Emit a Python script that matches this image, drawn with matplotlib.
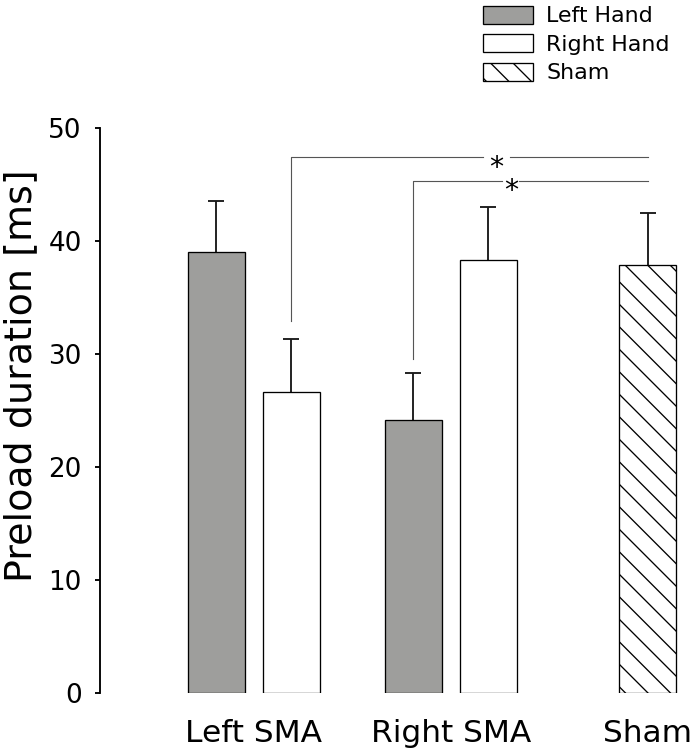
import matplotlib
matplotlib.use("Agg")
import matplotlib.pyplot as plt
from matplotlib.patches import Patch

# group labels and values (ms)
groups = ["Left SMA", "Right SMA", "Sham"]
left_hand_mean = [39.05, 24.2]
left_hand_sem = [4.5, 4.15]
right_hand_mean = [26.6, 38.3]
right_hand_sem = [4.7, 4.7]
sham_mean = [37.85]
sham_sem = [4.6]

# significance brackets: (x start, y start, y top, x end, star x)
brackets = [
    (0.1906, 32.9, 47.4, 2.0, 1.233),
    (0.8094, 29.6, 45.3, 2.0, 1.305),
]
star_gap = [0.141, 0.084]

DPI = 135
plt.rcParams["hatch.linewidth"] = 0.7
fig = plt.figure(figsize=(697 / DPI, 754 / DPI), dpi=DPI)
ax = fig.add_axes([100 / 697, 1 - 693 / 754, 590 / 697, 565 / 754])

offset = 0.1906
width = 0.29
lh_x = [i - offset for i in range(2)]
rh_x = [i + offset for i in range(2)]
sham_x = [2]


def upper_errorbar(x, y, err):
    # only the upper half of the error bar is visible above the bar
    cont = ax.errorbar(x, y, yerr=[[0] * len(err), err], fmt="none", ecolor="#1a1a1a",
                       elinewidth=1.0, capsize=4.2, capthick=1.0, zorder=1)
    cont.lines[1][0].set_visible(False)


ax.bar(lh_x, left_hand_mean, width, color="#9e9e9c", edgecolor="black", linewidth=0.7, zorder=2)
upper_errorbar(lh_x, left_hand_mean, left_hand_sem)
ax.bar(rh_x, right_hand_mean, width, color="white", edgecolor="black", linewidth=0.7, zorder=2)
upper_errorbar(rh_x, right_hand_mean, right_hand_sem)
ax.bar(sham_x, sham_mean, width, color="white", edgecolor="black", hatch="\\\\", linewidth=0.7, zorder=2)
upper_errorbar(sham_x, sham_mean, sham_sem)

for (x0, y0, ytop, x1, sx), gap in zip(brackets, star_gap):
    ax.plot([x0, x0, sx - gap / 2], [y0, ytop, ytop], color="#555555", linewidth=0.6, zorder=1)
    ax.plot([sx + gap / 2, x1], [ytop, ytop], color="#555555", linewidth=0.6, zorder=1)
    ax.text(sx, ytop - 0.9, "*", ha="center", va="center", fontsize=15)

ax.set_xlim(-0.7827, 2.216)
ax.set_ylim(0, 50)
ax.set_yticks([0, 10, 20, 30, 40, 50])
ax.set_xticks(range(3))
ax.set_xticklabels(groups, fontsize=16.7)
ax.tick_params(axis="x", length=0, pad=14)
ax.tick_params(axis="y", labelsize=14, length=2.7, width=1, pad=7)
for side in ("top", "right", "bottom"):
    ax.spines[side].set_visible(False)
ax.spines["left"].set_linewidth(1)

ax.set_ylabel("Preload duration [ms]", fontsize=20.3)
ax.yaxis.set_label_coords(-0.103, 0.562)

handles = [
    Patch(facecolor="#9e9e9c", edgecolor="black", linewidth=0.7),
    Patch(facecolor="white", edgecolor="black", linewidth=0.7),
    Patch(facecolor="white", edgecolor="black", linewidth=0.7, hatch="\\\\"),
]
fig.legend(handles, ["Left Hand", "Right Hand", "Sham"], loc="upper left",
           bbox_to_anchor=(483 / 697, 1 - 6 / 754), frameon=False, fontsize=11.8,
           borderpad=0, borderaxespad=0, handlelength=2.25, handleheight=0.85,
           handletextpad=0.62, labelspacing=0.36)

fig.savefig("out.png", dpi=DPI)
